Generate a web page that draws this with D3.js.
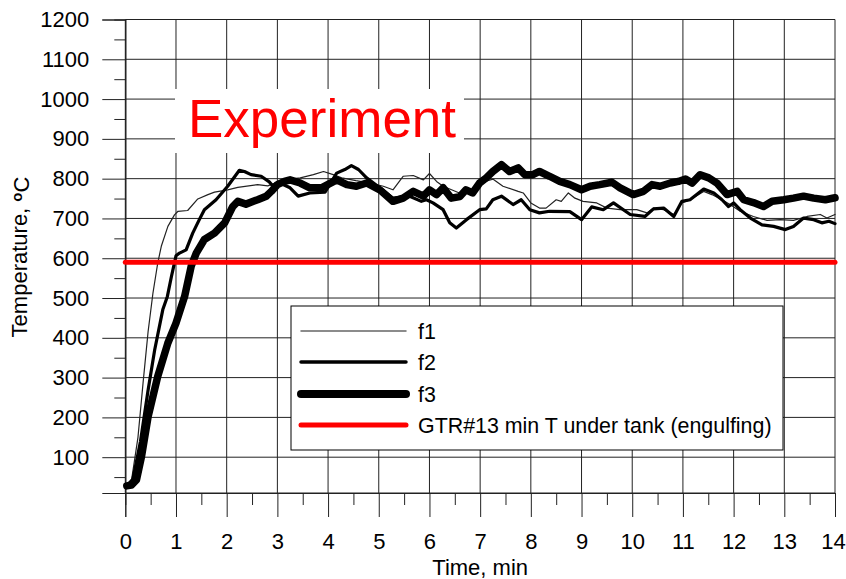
<!DOCTYPE html>
<html>
<head>
<meta charset="utf-8">
<script src="https://cdn.jsdelivr.net/npm/d3@7"></script>
<style>
  body { margin: 0; background: #fff; }
  text { font-family: "Liberation Sans", Arial, sans-serif; }
</style>
</head>
<body>
<div id="container"></div>
<script>
// DATA - [time (min), temperature (oC)]
const f1 = [[0.03,28],[0.12,40],[0.25,150],[0.35,286],[0.45,416],[0.545,512],[0.64,588],[0.71,630],[0.84,680],[0.97,709],
  [1.04,718],[1.23,720],[1.43,749],[1.63,760],[1.76,766],[2.02,772],[2.22,778],[2.61,785],[2.81,782],[3.12,797],
  [3.45,802],[3.71,810],[3.91,818],[4.1,810],[4.27,802],[4.55,795],[4.83,789],[5.09,781],[5.28,772],[5.48,806],
  [5.68,808],[5.88,797],[6.0,813],[6.14,793],[6.27,781],[6.59,764],[6.85,772],[7.0,789],[7.25,799],[7.45,781],
  [7.75,768],[7.85,764],[8.0,739],[8.17,726],[8.3,726],[8.5,747],[8.6,743],[8.74,764],[8.87,751],[9.03,743],
  [9.3,739],[9.5,726],[9.76,722],[10.09,722],[10.29,714],[10.42,726],[10.62,722],[10.82,710],[10.98,739],[11.14,747],
  [11.41,768],[11.57,760],[11.77,747],[11.93,735],[12.13,718],[12.39,705],[12.66,695],[12.92,697],[13.18,695],[13.45,705],
  [13.71,710],[13.84,701],[14.0,710]];

const f2 = [[0.03,28],[0.15,45],[0.3,140],[0.45,269],[0.58,370],[0.74,471],[0.83,504],[0.91,554],[1.0,606],[1.07,613],
  [1.2,621],[1.33,663],[1.46,697],[1.56,722],[1.79,747],[2.02,781],[2.25,821],[2.35,818],[2.48,810],[2.68,806],
  [2.84,792],[2.94,777],[3.05,789],[3.25,777],[3.41,756],[3.64,764],[3.94,766],[4.17,814],[4.33,823],[4.46,833],
  [4.6,823],[4.76,802],[5.02,777],[5.28,751],[5.61,756],[5.84,743],[5.94,747],[6.07,739],[6.27,722],[6.4,689],
  [6.53,676],[6.73,697],[6.99,722],[7.12,724],[7.25,747],[7.42,756],[7.65,735],[7.81,747],[7.98,722],[8.17,714],
  [8.37,718],[8.77,717],[9.0,697],[9.2,729],[9.43,722],[9.63,739],[9.96,710],[10.25,705],[10.42,724],[10.62,726],
  [10.82,705],[10.98,743],[11.14,747],[11.41,774],[11.61,764],[11.77,747],[11.9,730],[12.0,739],[12.13,722],[12.33,701],
  [12.56,684],[12.79,680],[13.02,672],[13.18,680],[13.38,701],[13.58,697],[13.74,689],[13.88,693],[14.0,687]];

const f3 = [[0.03,28],[0.12,30],[0.22,43],[0.32,102],[0.45,202],[0.64,303],[0.84,387],[1.0,437],[1.17,504],[1.3,580],
  [1.4,613],[1.56,647],[1.76,663],[1.96,689],[2.12,730],[2.22,743],[2.38,736],[2.61,747],[2.78,756],[2.88,768],
  [3.0,785],[3.14,793],[3.25,797],[3.45,789],[3.64,777],[3.87,777],[4.17,797],[4.37,785],[4.56,781],[4.76,789],
  [5.02,772],[5.28,743],[5.48,751],[5.68,768],[5.88,756],[6.0,772],[6.14,760],[6.27,777],[6.43,751],[6.6,755],
  [6.72,772],[6.85,764],[6.99,789],[7.12,802],[7.25,818],[7.42,835],[7.58,818],[7.75,827],[7.88,810],[8.04,810],
  [8.17,818],[8.37,806],[8.57,793],[8.77,785],[9.0,772],[9.17,781],[9.36,785],[9.6,791],[9.76,777],[10.02,760],
  [10.22,768],[10.39,785],[10.55,781],[10.75,789],[10.91,793],[11.05,799],[11.18,789],[11.34,810],[11.51,802],[11.67,789],
  [11.87,760],[12.07,768],[12.2,747],[12.39,740],[12.59,730],[12.76,743],[12.99,747],[13.18,751],[13.38,756],[13.58,751],
  [13.81,747],[14.0,752]];

const gtrLimit = 590;   // GTR#13 min T under tank
const timeTicks = d3.range(0, 15, 1);
const timeMinor = d3.range(0.5, 14, 1);
const tempTicks = d3.range(100, 1201, 100);
const tempMinor = d3.range(50, 1200, 100);
const legendLabels = ["f1", "f2", "f3", "GTR#13 min T under tank (engulfing)"];

// SIZES
const width = 846, height = 579;
const plotLeft = 125.3, plotRight = 835, plotTop = 19.5, plotBottom = 493;

const svg = d3.select("#container").append("svg")
  .attr("width", width)
  .attr("height", height);

const x = d3.scaleLinear().domain([0, 14]).range([plotLeft, plotRight]);
const y = d3.scaleLinear().domain([10, 1200]).range([plotBottom, plotTop]);

// grid
svg.append("g").selectAll("line")
  .data(tempTicks)
  .join("line")
  .attr("x1", plotLeft).attr("x2", plotRight)
  .attr("y1", d => y(d)).attr("y2", d => y(d))
  .attr("stroke", "#222").attr("stroke-width", 1);

svg.append("g").selectAll("line")
  .data(timeTicks)
  .join("line")
  .attr("x1", d => x(d)).attr("x2", d => x(d))
  .attr("y1", plotTop).attr("y2", plotBottom)
  .attr("stroke", "#222").attr("stroke-width", 1);

// bottom frame line
svg.append("line")
  .attr("x1", plotLeft).attr("x2", plotRight)
  .attr("y1", plotBottom).attr("y2", plotBottom)
  .attr("stroke", "#222");

// axes
const yAxis = svg.append("g")
  .attr("transform", `translate(${plotLeft},0)`)
  .call(d3.axisLeft(y).tickValues(tempTicks).tickFormat(d3.format("d")).tickSize(23).tickPadding(13));
const yMinor = svg.append("g")
  .attr("transform", `translate(${plotLeft},0)`)
  .call(d3.axisLeft(y).tickValues(tempMinor).tickSize(11).tickFormat(""));
const xAxis = svg.append("g")
  .attr("transform", `translate(0,${plotBottom})`)
  .call(d3.axisBottom(x).tickValues(timeTicks).tickFormat(d3.format("d")).tickSize(24).tickPadding(16));
const xMinor = svg.append("g")
  .attr("transform", `translate(0,${plotBottom})`)
  .call(d3.axisBottom(x).tickValues(timeMinor).tickSize(12).tickFormat(""));

[yAxis, yMinor, xAxis, xMinor].forEach(g => {
  g.select(".domain").attr("stroke", "#222");
  g.selectAll(".tick line").attr("stroke", "#222");
  g.selectAll("text")
    .attr("fill", "#000")
    .style("font-family", "'Liberation Sans', Arial, sans-serif")
    .style("font-size", "22px");
});

// keep the last time label inside the page
xAxis.selectAll(".tick text").filter(d => d === 14).attr("dx", -2);

// lines
const line = d3.line()
  .x(d => x(d[0]))
  .y(d => y(d[1]));

const series = [
  { data: f1, w: 1.2, color: "#222" },
  { data: f2, w: 3.2, color: "#000" },
  { data: f3, w: 7.5, color: "#000" }
];

svg.append("g").selectAll("path")
  .data(series)
  .join("path")
  .attr("d", d => line(d.data))
  .attr("fill", "none")
  .attr("stroke", d => d.color)
  .attr("stroke-width", d => d.w)
  .attr("stroke-linejoin", "round")
  .attr("stroke-linecap", "round");

svg.append("line")
  .attr("x1", x(0)).attr("x2", x(14))
  .attr("y1", y(gtrLimit)).attr("y2", y(gtrLimit))
  .attr("stroke", "#ff0000")
  .attr("stroke-width", 5)
  .attr("stroke-linecap", "round");

// "Experiment" label on white box
svg.append("rect")
  .attr("x", 175).attr("y", 89)
  .attr("width", 289).attr("height", 64)
  .attr("fill", "#fff");
svg.append("text")
  .attr("x", 188).attr("y", 137)
  .attr("fill", "#ff0000")
  .style("font-size", "53px")
  .text("Experiment");

// legend
const legend = svg.append("g");
legend.append("rect")
  .attr("x", 291).attr("y", 306)
  .attr("width", 492).attr("height", 144)
  .attr("fill", "#fff")
  .attr("stroke", "#000")
  .attr("stroke-width", 1);

const legendStyle = [
  { w: 1.5, color: "#666" },
  { w: 3.5, color: "#000" },
  { w: 8, color: "#000" },
  { w: 5, color: "#ff0000" }
];
const legendY = [331, 362, 394, 425];

const items = legend.selectAll("g")
  .data(legendLabels)
  .join("g")
  .attr("transform", (d, i) => `translate(0,${legendY[i]})`);
items.append("line")
  .attr("x1", 301).attr("x2", 406)
  .attr("stroke", (d, i) => legendStyle[i].color)
  .attr("stroke-width", (d, i) => legendStyle[i].w)
  .attr("stroke-linecap", "round");
items.append("text")
  .attr("x", 418)
  .attr("dy", "0.35em")
  .style("font-size", "21.4px")
  .text(d => d);

// axis titles
svg.append("text")
  .attr("x", (plotLeft + plotRight) / 2)
  .attr("y", 575)
  .attr("text-anchor", "middle")
  .style("font-size", "22px")
  .text("Time, min");

const yTitle = svg.append("text")
  .attr("transform", "translate(27,257) rotate(-90)")
  .attr("text-anchor", "middle")
  .style("font-size", "22px");
yTitle.append("tspan").text("Temperature,  ");
yTitle.append("tspan").attr("dy", "-0.35em").style("font-size", "15px").style("font-weight", "bold").text("o");
yTitle.append("tspan").attr("dy", "0.35em").text("C");
</script>
</body>
</html>
